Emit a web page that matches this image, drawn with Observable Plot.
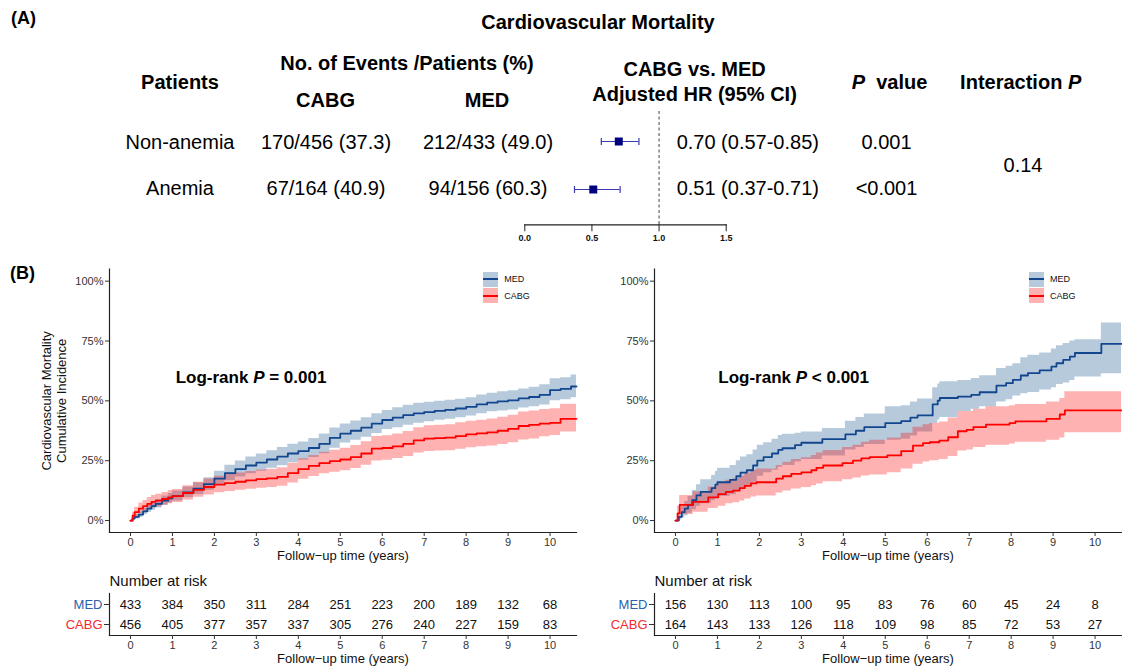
<!DOCTYPE html>
<html>
<head>
<meta charset="utf-8">
<script src="https://cdn.jsdelivr.net/npm/d3@7"></script>
<script src="https://cdn.jsdelivr.net/npm/@observablehq/plot@0.6"></script>
<style>
  html, body { margin: 0; padding: 0; background: #fff; }
  #fig { position: relative; width: 1122px; height: 668px; overflow: hidden; font-family: 'Liberation Sans', Arial, Helvetica, sans-serif; color: #000; }
  .abs { position: absolute; }
  .c { position: absolute; transform: translate(-50%, -50%); white-space: nowrap; line-height: 1; }
  .l { position: absolute; transform: translate(0, -50%); white-space: nowrap; line-height: 1; }
  .h { font-weight: bold; font-size: 20px; }
  .r { font-size: 20px; }
  .key { position: absolute; width: 15px; height: 15px; }
  .key i { position: absolute; left: 0; top: 6.5px; width: 15px; height: 2px; }
  .kt { position: absolute; font-size: 9px; transform: translate(0, -50%); line-height: 1; color: #111; }
</style>
</head>
<body>
<div id="fig"></div>
<script>
// ---------------- data ----------------
const rowLabels = ["Non-anemia", "Anemia"];
const cabgCol = ["170/456 (37.3)", "67/164 (40.9)"];
const medCol = ["212/433 (49.0)", "94/156 (60.3)"];
const hr = [0.70, 0.51];
const hrLo = [0.57, 0.37];
const hrHi = [0.85, 0.71];
const hrText = ["0.70 (0.57-0.85)", "0.51 (0.37-0.71)"];
const pText = ["0.001", "<0.001"];
const interactionP = "0.14";
const hrTicks = [0, 0.5, 1, 1.5];

const groups = ["MED", "CABG"];
const yTicks = [0, 25, 50, 75, 100];
const xTicks = [0, 1, 2, 3, 4, 5, 6, 7, 8, 9, 10];
const riskTimes = [0, 1, 2, 3, 4, 5, 6, 7, 8, 9, 10];
const riskLeftMed = [433, 384, 350, 311, 284, 251, 223, 200, 189, 132, 68];
const riskLeftCabg = [456, 405, 377, 357, 337, 305, 276, 240, 227, 159, 83];
const riskRightMed = [156, 130, 113, 100, 95, 83, 76, 60, 45, 24, 8];
const riskRightCabg = [164, 143, 133, 126, 118, 109, 98, 85, 72, 53, 27];

// Left panel (non-anemia), cumulative incidence in %
const leftT = [0,0.05,0.1,0.2,0.3,0.4,0.5,0.6,0.75,0.9,1,1.25,1.5,1.75,2,2.25,2.5,2.75,3,3.25,3.5,3.75,4,4.25,4.5,4.75,5,5.25,5.5,5.75,6,6.25,6.5,6.75,7,7.25,7.5,7.75,8,8.25,8.5,8.75,9,9.25,9.5,9.75,10,10.25,10.5,10.63];
const leftMedEst = [0,0.8,1.5,2.5,3.8,5,6,7,8.3,9.3,10.2,11.8,13.3,15.2,17.5,19.8,21.5,23,24.2,25.5,26.7,28,29,30.3,32,34.5,36.3,37.5,38.8,40.5,42,43,44,44.8,45.3,45.8,46.2,46.8,47.5,48.5,49.3,49.8,50.2,51,51.6,52.5,54.5,55,56,56];
const leftMedLo = [0,0.2,0.6,1.4,2.4,3.4,4.3,5.2,6.4,7.3,8.2,9.6,10.9,12.6,14.6,16.6,18.2,19.5,20.6,21.8,22.9,24.1,25.2,26.3,27.9,30.2,32.4,33.5,34.8,36.4,38,38.8,39.8,40.6,41.3,41.9,42.3,42.9,43.7,44.6,45.4,45.8,46.2,47,47.5,48.3,50,50.5,51.3,51.3];
const leftMedHi = [0,1.5,2.5,3.7,5.2,6.6,7.7,8.8,10.2,11.3,12.3,14,15.8,17.9,20.6,23.1,24.9,26.5,27.8,29.2,30.5,31.9,32.8,34.3,36.1,38.7,40.3,41.6,42.9,44.6,46,47.1,48.2,49,49.4,49.8,50.2,50.7,51.3,52.4,53.2,53.8,54.2,55,55.7,56.7,59.2,59.7,60.8,60.8];
const leftCabgEst = [0,2,3.5,5,6,7,7.8,8.3,9,9.7,10.2,11.5,12.8,14,15,15.6,16.2,16.8,17.3,17.6,18.2,19.8,21.5,22.8,24,24.8,25.5,26.5,28,30,30.3,31,32,33.5,34.2,34.4,34.6,35.3,36,36.4,36.8,37.5,38.3,39.5,40,40.5,40.8,42.5,42.5,42.5];
const leftCabgLo = [0,0.8,1.8,2.9,3.8,4.6,5.3,5.8,6.4,7,7.5,8.6,9.7,10.7,11.6,12.1,12.6,13.1,13.5,13.8,14.3,15.7,17.2,18.4,19.5,20.2,20.8,21.7,23.1,24.9,25.2,25.9,26.8,28.2,28.8,29,29.2,29.8,30.4,30.8,31.1,31.8,32.5,33.6,34.1,35,35.5,37,37,37];
const leftCabgHi = [0,3.5,5.5,7.3,8.4,9.6,10.5,11,11.7,12.5,13,14.5,16,17.4,18.5,19.2,19.9,20.5,21.1,21.4,22.1,23.9,25.8,27.2,28.5,29.4,30.2,31.3,32.9,35.1,35.4,36.1,37.2,38.8,39.6,39.8,40,40.8,41.5,41.9,42.4,43.2,44,45.3,45.8,46.4,46.7,48.6,48.6,48.6];

// Right panel (anemia)
const rightMedT = [0,0.08,0.15,0.22,0.3,0.4,0.5,0.6,0.86,0.95,1,1.3,1.45,1.55,1.7,1.85,1.95,2.1,2.3,2.45,2.55,2.85,3,3.5,4.05,4.3,4.5,5,5.38,5.6,5.77,6.13,6.25,6.3,6.73,7.05,7.25,7.65,7.88,8.04,8.23,8.4,8.68,8.96,9.08,9.24,9.4,9.52,10.15,10.63];
const rightMedEst = [0,1.5,3.5,5,6.5,8.5,10.5,12,13.5,15,16,17,18.5,20,21,23,25,26.5,28,29.5,30.2,31.5,32.5,34,36,37.5,39,40.7,41.5,43,43.9,48.5,50.1,51.2,51.8,52.5,53.6,56.4,57.4,58.8,60.6,61.6,62.7,64.3,65.7,67.1,68.5,70,73.8,73.8];
const rightMedLo = [0,0.2,1.2,2,3,4.5,6,7,8.3,9.2,10,10.8,12,13.5,14.5,16,18.5,20,21,22.3,23,24.5,25.5,27,29.5,30.5,31.8,33.5,34,35.3,37,40.5,42,43,45.5,46.5,47.5,49.5,50.5,52,53,53.5,54.5,55.5,56.8,57.5,58.5,60,61.3,61.3];
const rightMedHi = [0,3,6,8,10,12.5,15,17,18.8,20.5,21.8,23,25,26.5,27.5,29.5,31.5,32.5,34,35.5,36,36.5,37,38.5,41.5,43,44.5,47.5,48,49.5,50.8,55.5,57,58,58.5,59.3,60.5,63.5,64.5,65.5,68,69,70,71.7,73,74,75,75.5,82.5,82.5];
const rightCabgT = [0,0.05,0.1,0.42,0.78,1.02,1.2,1.37,1.53,1.65,1.8,1.93,2.4,2.56,2.76,3,3.24,3.36,3.52,3.98,4.23,4.43,4.63,5.05,5.38,5.66,5.9,6.06,6.29,6.5,6.73,6.94,7.1,7.4,7.96,8.1,8.84,9.16,9.28,10.63];
const rightCabgEst = [0,3,6.5,7.8,9.7,11,12,12.5,13.5,14.5,15.5,16,17.5,18.5,19.5,20.1,21,22,23,24,25,26,26.5,27.2,29,31.3,32.3,32.7,33.4,34.8,37.3,37.9,39,40.1,40.7,41.4,42.5,44.3,46,46];
const rightCabgLo = [0,0.8,2.5,3.5,5,6,7,7.4,8.2,9,9.8,10.3,11.5,12.3,13.2,13.8,14.5,15.3,16.2,17,17.8,18.6,19,20,21.5,23.5,24.5,25,25.5,26.8,29,29.5,30.5,31.5,32,32.7,33.5,34.5,36.7,36.7];
const rightCabgHi = [0,6,10.5,12,14,15.5,16.8,17.5,18.5,19.8,21,21.5,23,24.3,25.5,26.2,27.2,28.2,29.3,30.5,31.5,32.7,33.5,34.5,36.5,39,40,40.5,41.2,42.8,45.5,45.5,46.5,47.5,48,48.5,49.5,51,53.8,53.8];

// ---------------- styling ----------------
const FONT = "'Liberation Sans', Arial, Helvetica, sans-serif";
const MED_LINE = "#12468E", MED_BAND = "#104E8B";
const CABG_LINE = "#FF0000", CABG_BAND = "#FF0000";
const MED_LABEL = "#2B62AE", CABG_LABEL = "#F22A2F";
const ERR = "#3A3AB4", SQUARE = "#00007F";
const TICK_TEXT = "#333333";
const baseStyle = {fontFamily: FONT, fontSize: "11px", color: "#333", background: "transparent", overflow: "visible"};

const fig = document.getElementById("fig");
function place(node, left, top) {
  const d = document.createElement("div");
  d.className = "abs"; d.style.left = left + "px"; d.style.top = top + "px";
  d.appendChild(node); fig.appendChild(d);
}
function txt(html, cls, x, y, extra) {
  const d = document.createElement("div");
  d.className = cls; d.innerHTML = html;
  d.style.left = x + "px"; d.style.top = y + "px";
  if (extra) Object.assign(d.style, extra);
  fig.appendChild(d);
}

// ---------------- Panel A: table text ----------------
txt("(A)", "l h", 11, 18, {fontSize: "18px"});
txt("Cardiovascular Mortality", "c h", 598, 22);
txt("Patients", "c h", 180, 82);
txt("No. of Events /Patients (%)", "c h", 407, 63);
txt("CABG", "c h", 325.5, 100);
txt("MED", "c h", 487, 100);
txt("CABG vs. MED", "c h", 694.6, 69.3);
txt("Adjusted HR (95% CI)", "c h", 694.6, 94);
txt("<i>P</i>&nbsp; value", "c h", 889.5, 82.3);
txt("Interaction <i>P</i>", "c h", 1020.7, 82.3);
const rowY = [142.3, 188.3];
rowLabels.forEach((r, i) => {
  txt(r, "c r", 180, rowY[i]);
  txt(cabgCol[i], "c r", 326, rowY[i]);
  txt(medCol[i], "c r", 488, rowY[i]);
  txt(hrText[i], "c r", 747.8, rowY[i]);
  txt(pText[i], "c r", 886.5, rowY[i]);
});
txt(interactionP, "c r", 1023, 165);

// ---------------- Panel A: forest plot ----------------
const forest = rowLabels.map((row, i) => ({row, hr: hr[i], lo: hrLo[i], hi: hrHi[i]}));
const capSymbol = {draw(ctx, size) { const h = Math.sqrt(size / Math.PI); ctx.moveTo(0, -h); ctx.lineTo(0, h); }};
const forestPlot = Plot.plot({
  width: 266, height: 155,
  marginLeft: 44.3, marginRight: 20.3, marginTop: 11, marginBottom: 30.7,
  x: {domain: [0, 1.5]},
  y: {type: "point", domain: rowLabels, range: [41, 89], padding: 0, axis: null},
  style: baseStyle,
  marks: [
    Plot.ruleX([1], {stroke: "#444", strokeWidth: 1, strokeDasharray: "3,2.5"}),
    Plot.ruleY(forest, {y: "row", x1: "lo", x2: "hi", stroke: ERR, strokeWidth: 1.2}),
    Plot.dot(forest, {x: "lo", y: "row", symbol: capSymbol, r: 3.5, stroke: ERR, fill: "none", strokeWidth: 1.2}),
    Plot.dot(forest, {x: "hi", y: "row", symbol: capSymbol, r: 3.5, stroke: ERR, fill: "none", strokeWidth: 1.2}),
    Plot.dot(forest, {x: "hr", y: "row", symbol: "square", r: 4.5, fill: SQUARE, stroke: "none"}),
    Plot.frame({anchor: "bottom", stroke: "#222", strokeWidth: 1.2}),
    Plot.axisX({ticks: hrTicks, tickFormat: d3.format(".1f"), tickSize: 7, tickPadding: 2.5, fontSize: 9, fontWeight: "bold", fill: "#111", stroke: "#222", label: null})
  ]
});
place(forestPlot, 480, 100);

// ---------------- Panel B: KM curves ----------------
txt("(B)", "l h", 10, 273, {fontSize: "18px"});

function series(T, E, L, H) { return T.map((t, i) => ({t, est: E[i], lo: L[i], hi: H[i]})); }

function kmPlot({med, cabg, width, marginLeft, marginRight, yTitle}) {
  const marks = [
    Plot.areaY(med, {x: "t", y1: "lo", y2: "hi", curve: "step-after", fill: MED_BAND, fillOpacity: 0.3}),
    Plot.areaY(cabg, {x: "t", y1: "lo", y2: "hi", curve: "step-after", fill: CABG_BAND, fillOpacity: 0.3}),
    Plot.lineY(med, {x: "t", y: "est", curve: "step-after", stroke: MED_LINE, strokeWidth: 1.8}),
    Plot.lineY(cabg, {x: "t", y: "est", curve: "step-after", stroke: CABG_LINE, strokeWidth: 1.8}),
    Plot.frame({anchor: "left", stroke: "#222", strokeWidth: 1.2}),
    Plot.frame({anchor: "bottom", stroke: "#222", strokeWidth: 1.2}),
    Plot.axisY({ticks: yTicks, tickFormat: d => d + "%", tickSize: 4, tickPadding: 2, fontSize: 11, fill: TICK_TEXT, stroke: "#333", label: null}),
    Plot.axisX({ticks: xTicks, tickSize: 4, tickPadding: 1.5, fontSize: 11, fill: TICK_TEXT, stroke: "#333", label: null}),
    Plot.text(["Follow\u2212up time (years)"], {frameAnchor: "bottom", lineAnchor: "middle", dy: 23, fontSize: 13, fill: "#111"})
  ];
  if (yTitle) marks.push(Plot.text([yTitle], {frameAnchor: "left", textAnchor: "middle", lineAnchor: "middle", rotate: -90, dx: -55.5, fontSize: 13, lineHeight: 1.1, fill: "#111"}));
  return Plot.plot({
    width, height: 305, marginLeft, marginRight, marginTop: 8.7, marginBottom: 33,
    x: {domain: [-0.5, 10.63]},
    y: {domain: [-5, 105]},
    style: baseStyle,
    marks
  });
}

const kmLeft = kmPlot({
  med: series(leftT, leftMedEst, leftMedLo, leftMedHi),
  cabg: series(leftT, leftCabgEst, leftCabgLo, leftCabgHi),
  width: 590, marginLeft: 109, marginRight: 14,
  yTitle: "Cardiovascular Mortality\nCumulative Incidence"
});
place(kmLeft, 0, 260);
const kmRight = kmPlot({
  med: series(rightMedT, rightMedEst, rightMedLo, rightMedHi),
  cabg: series(rightCabgT, rightCabgEst, rightCabgLo, rightCabgHi),
  width: 562, marginLeft: 94, marginRight: 1
});
place(kmRight, 560, 260);

txt("Log-rank <i>P</i> = 0.001", "l", 175.7, 377.3, {fontSize: "17px", fontWeight: "bold"});
txt("Log-rank <i>P</i> &lt; 0.001", "l", 718.3, 377.3, {fontSize: "17px", fontWeight: "bold"});

function legend(x) {
  const items = [["MED", MED_BAND, MED_LINE, 271.7], ["CABG", CABG_BAND, CABG_LINE, 288]];
  for (const [name, band, line, y] of items) {
    const k = document.createElement("div");
    k.className = "key";
    k.style.left = x + "px"; k.style.top = y + "px";
    k.style.background = d3.color(band).copy({opacity: 0.3}).formatRgb();
    const i = document.createElement("i"); i.style.background = line; k.appendChild(i);
    fig.appendChild(k);
    const t = document.createElement("div");
    t.className = "kt"; t.textContent = name;
    t.style.left = (x + 21) + "px"; t.style.top = (y + 7.5) + "px";
    fig.appendChild(t);
  }
}
legend(483.3);
legend(1029);

// ---------------- Number at risk tables ----------------
function riskPlot({med, cabg, width, marginLeft, marginRight}) {
  const rows = [
    ...riskTimes.map((t, i) => ({t, group: "MED", n: med[i]})),
    ...riskTimes.map((t, i) => ({t, group: "CABG", n: cabg[i]}))
  ];
  return Plot.plot({
    width, height: 103, marginLeft, marginRight, marginTop: 28, marginBottom: 33,
    x: {domain: [-0.5, 10.63]},
    y: {type: "band", domain: groups, padding: 0.1},
    style: baseStyle,
    marks: [
      Plot.text(rows, {x: "t", y: "group", text: "n", fontSize: 13, fill: "#111"}),
      Plot.frame({anchor: "left", stroke: "#222", strokeWidth: 1.2}),
      Plot.frame({anchor: "bottom", stroke: "#222", strokeWidth: 1.2}),
      Plot.axisY({tickSize: 5, tickFormat: () => "", stroke: "#333", label: null}),
      Plot.text(["MED"], {y: d => d, text: d => d, frameAnchor: "left", dx: -7, textAnchor: "end", fontSize: 13, fill: MED_LABEL}),
      Plot.text(["CABG"], {y: d => d, text: d => d, frameAnchor: "left", dx: -7, textAnchor: "end", fontSize: 13, fill: CABG_LABEL}),
      Plot.axisX({ticks: xTicks, tickSize: 4, tickPadding: 1.5, fontSize: 11, fill: TICK_TEXT, stroke: "#333", label: null}),
      Plot.text(["Number at risk"], {frameAnchor: "top-left", lineAnchor: "middle", dy: -12.3, textAnchor: "start", fontSize: 15, fill: "#111"}),
      Plot.text(["Follow\u2212up time (years)"], {frameAnchor: "bottom", lineAnchor: "middle", dy: 23, fontSize: 13, fill: "#111"})
    ]
  });
}
place(riskPlot({med: riskLeftMed, cabg: riskLeftCabg, width: 590, marginLeft: 109, marginRight: 14}), 0, 565);
place(riskPlot({med: riskRightMed, cabg: riskRightCabg, width: 562, marginLeft: 94, marginRight: 1}), 560, 565);
</script>
</body>
</html>
